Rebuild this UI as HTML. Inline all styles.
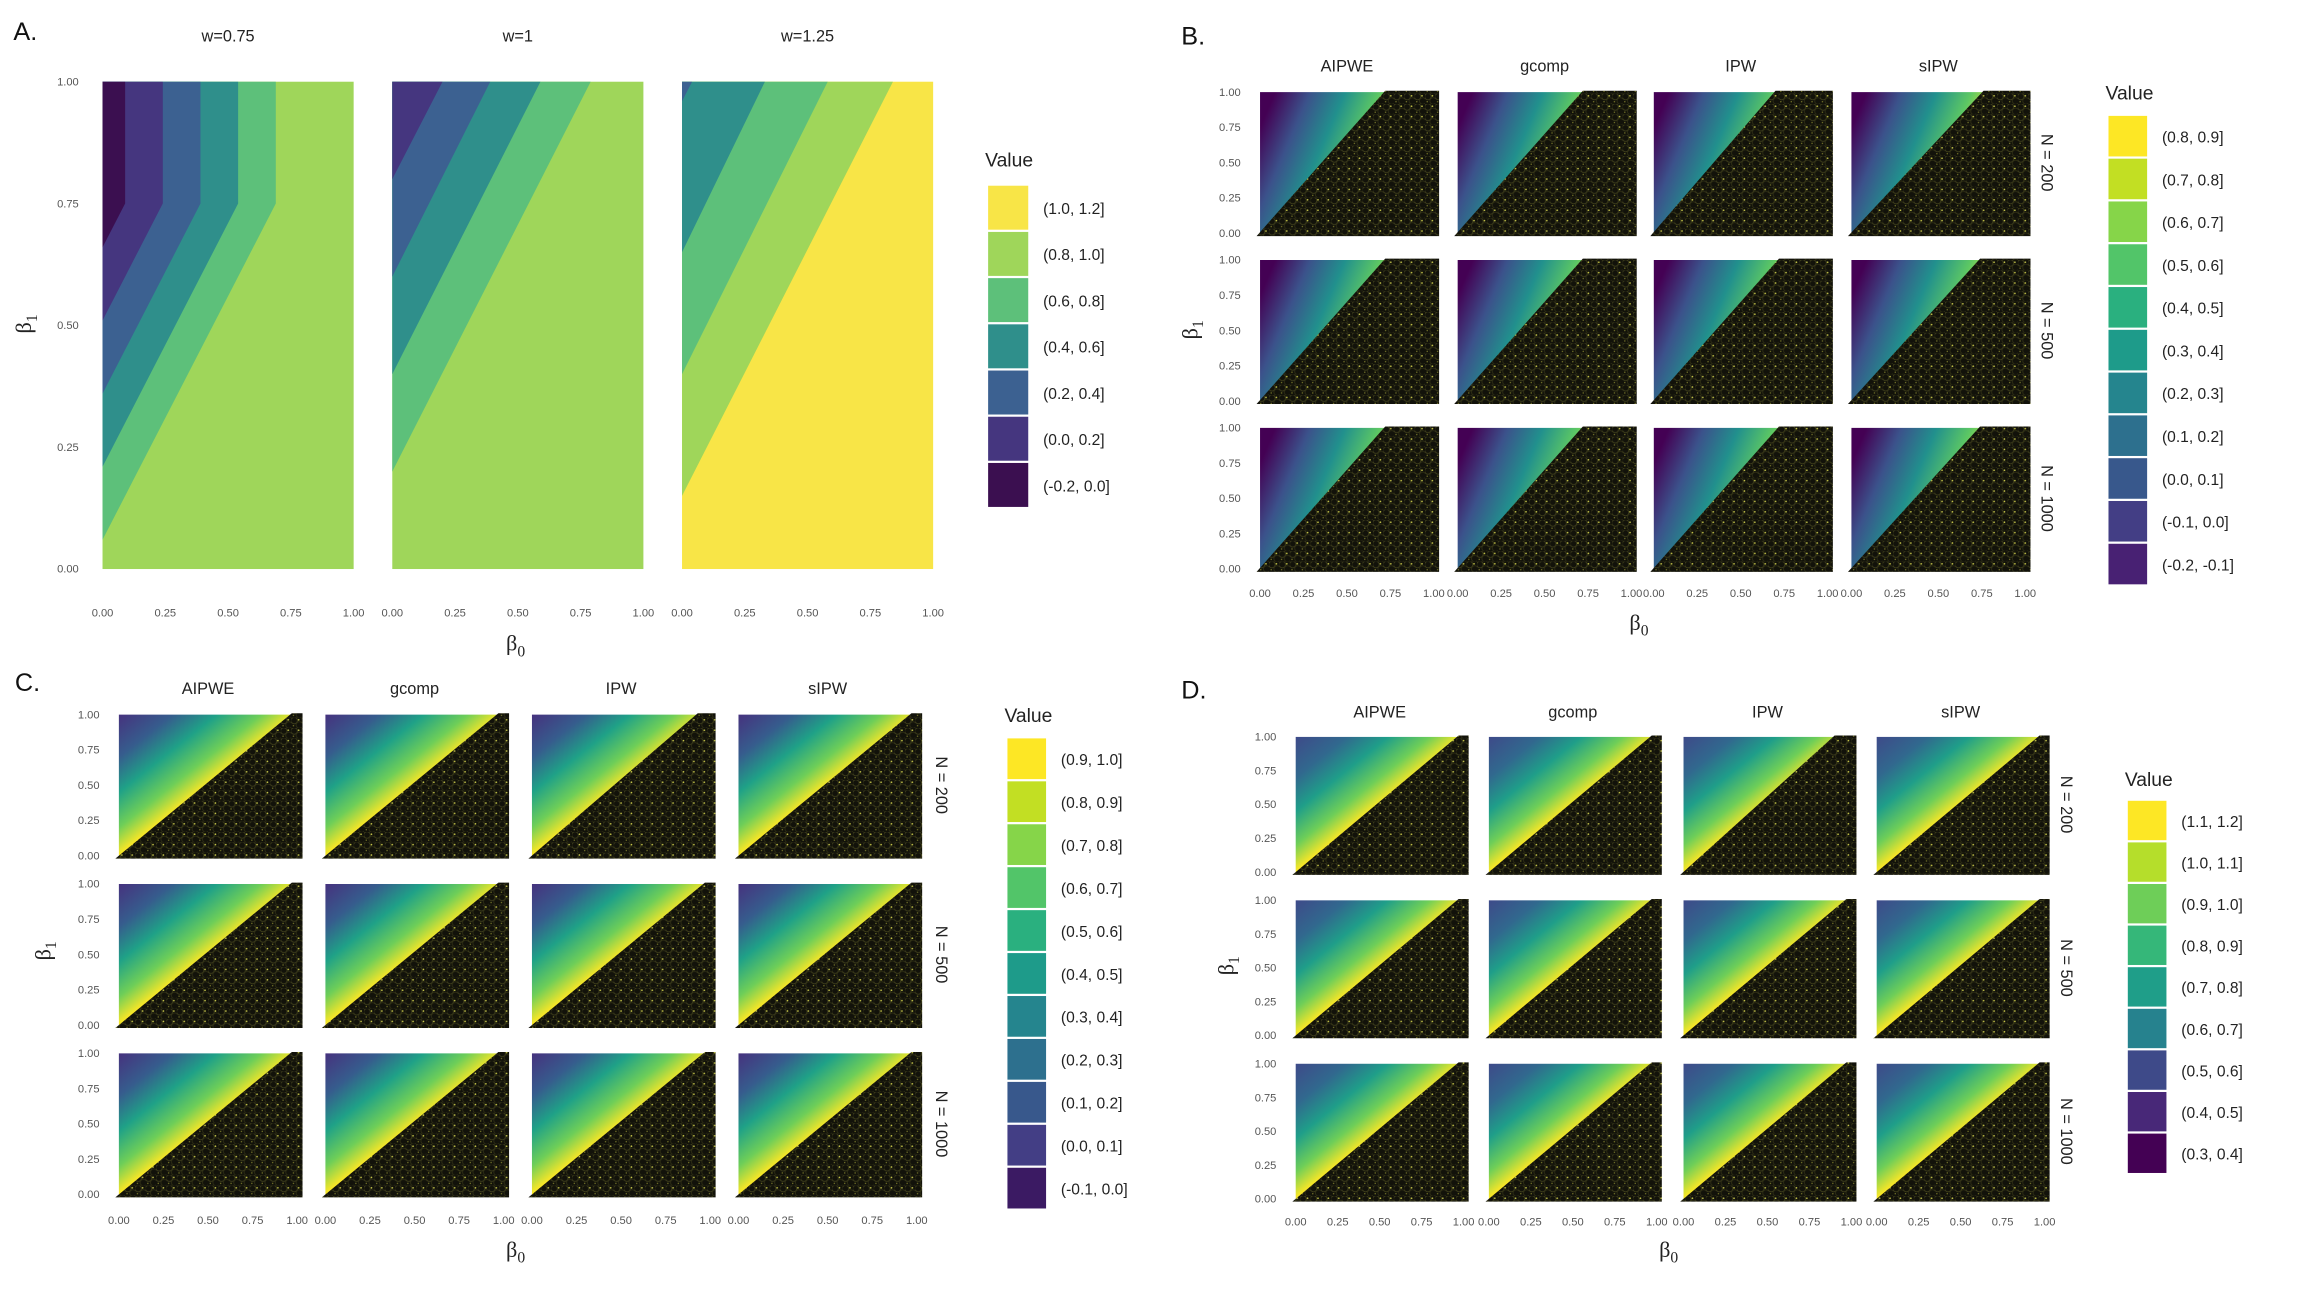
<!DOCTYPE html>
<html><head><meta charset="utf-8">
<style>
html,body{margin:0;padding:0;background:#fff;}
svg{display:block;font-family:"Liberation Sans",sans-serif;}
</style></head>
<body>
<svg id="fig" width="2318" height="1300" viewBox="0 0 1560 875" preserveAspectRatio="none" xmlns="http://www.w3.org/2000/svg">
<defs>
<pattern id="dots" patternUnits="userSpaceOnUse" width="7" height="7">
<rect width="7" height="7" fill="#12120a"/>
<circle cx="2" cy="2" r="2.2" fill="none" stroke="#3f3f1c" stroke-width="0.6"/>
<circle cx="5.5" cy="5" r="2.2" fill="none" stroke="#2e2e14" stroke-width="0.6"/>
<circle cx="5" cy="1.5" r="0.55" fill="#c8c84a"/>
<circle cx="1.5" cy="5.5" r="0.45" fill="#8a8a30"/>
</pattern>
<linearGradient id="gB" x1="0" y1="0.25" x2="0.72" y2="0.5">
<stop offset="0" stop-color="#440154"/><stop offset="0.25" stop-color="#3b528b"/><stop offset="0.5" stop-color="#21908d"/><stop offset="0.75" stop-color="#5dc863"/><stop offset="1" stop-color="#fde725"/>
</linearGradient>
<linearGradient id="gC" x1="0" y1="0" x2="0.5" y2="0.5">
<stop offset="0" stop-color="#46327e"/><stop offset="0.3" stop-color="#365c8d"/><stop offset="0.55" stop-color="#1fa187"/><stop offset="0.8" stop-color="#6ece58"/><stop offset="1" stop-color="#fde725"/>
</linearGradient>
<linearGradient id="gD" x1="0" y1="0" x2="0.5" y2="0.5">
<stop offset="0" stop-color="#3e4a89"/><stop offset="0.3" stop-color="#31688e"/><stop offset="0.55" stop-color="#1f9e89"/><stop offset="0.8" stop-color="#6ece58"/><stop offset="1" stop-color="#fde725"/>
</linearGradient>
</defs>
</svg>
<script>
// ---- data ----
const ticks = ['0.00','0.25','0.50','0.75','1.00'];
const tickVals = [0,0.25,0.5,0.75,1];
const facetsA = ['w=0.75','w=1','w=1.25'];
const levelsA = ['(1.0, 1.2]','(0.8, 1.0]','(0.6, 0.8]','(0.4, 0.6]','(0.2, 0.4]','(0.0, 0.2]','(-0.2, 0.0]'];
const colorsA = ['#f8e547','#9fd65a','#5dc07a','#2f8f8b','#3c6191','#45367f','#3b0f50'];
// boundaries per facet: [topX, kinkY, leftY, lowerColorIndex]
const boundsA075 = [[0.69,0.75,0.06,2],[0.54,0.75,0.21,3],[0.39,0.75,0.36,4],[0.24,0.75,0.51,5],[0.09,0.75,0.66,6]];
const boundsA1 = [[0.79,1,0.20,2],[0.59,1,0.40,3],[0.39,1,0.60,4],[0.20,1,0.80,5]];
const boundsA125 = [[0.84,1,0.15,1],[0.58,1,0.40,2],[0.33,1,0.65,3],[0.04,1,0.96,4]];
const baseA = [1,1,0];
const methods = ['AIPWE','gcomp','IPW','sIPW'];
const sizes = ['N = 200','N = 500','N = 1000'];
const apexB = [[0.72,0.72,0.7,0.76],[0.72,0.72,0.72,0.74],[0.72,0.72,0.72,0.74]];
const apexC = [[0.97,0.97,0.93,0.97],[0.97,0.97,0.97,0.97],[0.97,0.97,0.97,0.97]];
const apexD = [[0.97,0.97,0.9,0.97],[0.97,0.97,0.97,0.97],[0.97,0.97,0.97,0.97]];
const levelsB = ['(0.8, 0.9]','(0.7, 0.8]','(0.6, 0.7]','(0.5, 0.6]','(0.4, 0.5]','(0.3, 0.4]','(0.2, 0.3]','(0.1, 0.2]','(0.0, 0.1]','(-0.1, 0.0]','(-0.2, -0.1]'];
const colorsB = ['#fde725','#c2df23','#86d549','#52c569','#2ab07f','#1e9b8a','#25858e','#2d708e','#38588c','#433e85','#482173'];
const levelsC = ['(0.9, 1.0]','(0.8, 0.9]','(0.7, 0.8]','(0.6, 0.7]','(0.5, 0.6]','(0.4, 0.5]','(0.3, 0.4]','(0.2, 0.3]','(0.1, 0.2]','(0.0, 0.1]','(-0.1, 0.0]'];
const colorsC = ['#fde725','#c2df23','#86d549','#52c569','#2ab07f','#1e9b8a','#25858e','#2d708e','#38588c','#433e85','#3b1a63'];
const levelsD = ['(1.1, 1.2]','(1.0, 1.1]','(0.9, 1.0]','(0.8, 0.9]','(0.7, 0.8]','(0.6, 0.7]','(0.5, 0.6]','(0.4, 0.5]','(0.3, 0.4]'];
const colorsD = ['#fde725','#b5de2b','#6ece58','#35b779','#1f9e89','#26828e','#3e4a89','#482878','#440154'];

const svg = document.getElementById('fig');
const NS = 'http://www.w3.org/2000/svg';
function el(tag, attrs, parent){const e=document.createElementNS(NS,tag);for(const k in attrs)e.setAttribute(k,attrs[k]);(parent||svg).appendChild(e);return e;}
function txt(x,y,s,size,anchor,parent,extra){const t=el('text',Object.assign({x:x,y:y,'font-size':size,'text-anchor':anchor||'middle',fill:'#222'},extra||{}),parent);t.textContent=s;return t;}
function beta(x,y,sub,size,rot){
  const t=el('text',{x:x,y:y,'font-size':size,'text-anchor':'middle',fill:'#222','font-family':'"Liberation Serif",serif',transform:rot?`rotate(-90 ${x} ${y})`:''});
  
  
  t.appendChild(document.createTextNode('β'));
  const s=document.createElementNS(NS,'tspan');s.setAttribute('font-size',size*0.7);s.setAttribute('dy',size*0.25);s.textContent=sub;t.appendChild(s);
}
function legend(x,y,titleY,sw,swh,levels,colors,name){
  const g=el('g',{});
  
  
  const tt=txt(x-2,titleY,'Value',13,'start',g);
  
  
  levels.forEach((lv,i)=>{
    const r=el('rect',{x:x,y:y+i*swh,width:sw,height:swh-1.5,fill:colors[i]},g);
    
    
    const t=txt(x+sw+10,y+i*swh+swh/2+3.5,lv,10.5,'start',g);
    
    
  });
}
function label(x,y,s,name){const t=txt(x,y,s,17,'start',null,{'font-weight':'normal',fill:'#111'});}

// ---- Panel A ----
label(9,27,'A.','panel-a-label');
const colsA=[69,264,459], wA=169, yA0=55, hA=328;
const allBounds=[boundsA075,boundsA1,boundsA125];
facetsA.forEach((f,ci)=>{
  const x0=colsA[ci];
  const sx=v=>x0+v*wA, sy=v=>yA0+hA-v*hA;
  const g=el('g',{});
  
  
  const bg=el('rect',{x:x0,y:yA0,width:wA,height:hA,fill:colorsA[baseA[ci]]},g);
  
  
  allBounds[ci].forEach(b=>{
    const pts=[[0,1],[b[0],1],[b[0],b[1]],[0,b[2]]];
    const p=el('polygon',{points:pts.map(q=>sx(q[0])+','+sy(q[1])).join(' '),fill:colorsA[b[3]]},g);
    
    
  });
  const t=txt(x0+wA/2,28,f,11,'middle');
  
  
  tickVals.forEach((v,i)=>{
    const xt=txt(sx(v),415,ticks[i],7.5,'middle',null,{fill:'#555'});
    
    
    if(ci===0){const yt=txt(53,sy(v)+2.5,ticks[i],7.5,'end',null,{fill:'#555'});}
  });
});
beta(347,438,'0',15,false);
beta(21,218,'1',15,true);
legend(665,125,112,27,31.1,levelsA,colorsA,'legend-a');

// ---- Grid panels ----
function grid(cfg){
  label(cfg.lx,cfg.ly,cfg.letter,'panel-'+cfg.letter[0].toLowerCase()+'-label');
  sizes.forEach((s,ri)=>{
    methods.forEach((m,ci)=>{
      const x0=cfg.cols[ci], y0=cfg.rows[ri], w=cfg.w, h=cfg.h;
      const sx=v=>x0+v*w, sy=v=>y0+h-v*h;
      const g=el('g',{});
      
      
      const r=el('rect',{x:x0,y:y0,width:w,height:h,fill:'url(#'+cfg.grad+')'},g);
      
      
      const a=cfg.apex[ri][ci];
      const pts=[[-0.02,-0.02],[a,1.01],[1.03,1.01],[1.03,-0.02]];
      const p=el('polygon',{points:pts.map(q=>sx(q[0])+','+sy(q[1])).join(' '),fill:'url(#dots)'},g);
      
      
      if(ri===0){const t=txt(x0+w/2,cfg.titleY,m,11);}
      if(ci===0){tickVals.forEach((v,i)=>{const yt=txt(x0-13,sy(v)+2.5,ticks[i],7.5,'end',null,{fill:'#555'});});}
      if(ri===2){tickVals.forEach((v,i)=>{const xt=txt(sx(v),cfg.xtY,ticks[i],7.5,'middle',null,{fill:'#555'});});}
    });
    const sxp=cfg.stripX, syp=cfg.rows[ri]+cfg.h/2;
    const st=txt(sxp,syp,s,11,'middle',null,{transform:`rotate(90 ${sxp} ${syp})`});
    
    
  });
  beta(cfg.bx,cfg.by,'0',15,false);
  beta(cfg.b1x,cfg.b1y,'1',15,true);
  legend(cfg.legX,cfg.legY,cfg.legTY,26,cfg.legH,cfg.levels,cfg.colors,'legend-'+cfg.letter[0].toLowerCase());
}
grid({letter:'B.',lx:795,ly:30,cols:[848,981,1113,1246],w:117,rows:[62,175,288],h:95,grad:'gB',apex:apexB,titleY:48,xtY:402,stripX:1374,bx:1103,by:424,b1x:806,b1y:222,legX:1419,legY:78,legTY:67,legH:28.8,levels:levelsB,colors:colorsB});
grid({letter:'C.',lx:10,ly:465,cols:[80,219,358,497],w:120,rows:[481,595,709],h:95,grad:'gC',apex:apexC,titleY:467,xtY:824,stripX:630,bx:347,by:846,b1x:34,b1y:640,legX:678,legY:497,legTY:486,legH:28.9,levels:levelsC,colors:colorsC});
grid({letter:'D.',lx:795,ly:470,cols:[872,1002,1133,1263],w:113,rows:[496,606,716],h:91,grad:'gD',apex:apexD,titleY:483,xtY:825,stripX:1387,bx:1123,by:846,b1x:830,b1y:650,legX:1432,legY:539,legTY:529,legH:28,levels:levelsD,colors:colorsD});
</script>
</body></html>
